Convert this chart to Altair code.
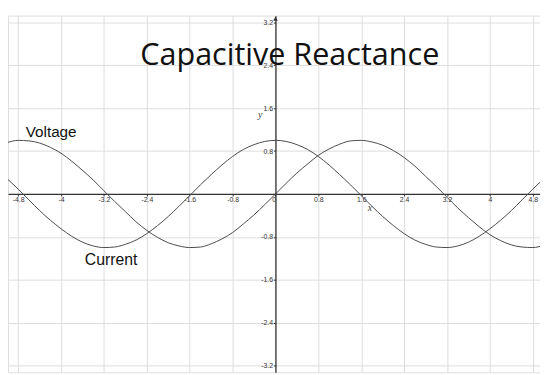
import json
import altair as alt
import pandas as pd

# ---- data ----
x_vals = [-5.0, -4.8, -4.6, -4.4, -4.2, -4.0, -3.8, -3.6, -3.4, -3.2, -3.0,
          -2.8, -2.6, -2.4, -2.2, -2.0, -1.8, -1.6, -1.4, -1.2, -1.0,
          -0.8, -0.6, -0.4, -0.2, 0.0, 0.2, 0.4, 0.6, 0.8, 1.0,
          1.2, 1.4, 1.6, 1.8, 2.0, 2.2, 2.4, 2.6, 2.8, 3.0,
          3.2, 3.4, 3.6, 3.8, 4.0, 4.2, 4.4, 4.6, 4.8, 5.0]
voltage = [0.96, 1.00, 0.99, 0.95, 0.87, 0.76, 0.61, 0.44, 0.26, 0.06, -0.14,
           -0.33, -0.52, -0.68, -0.81, -0.91, -0.97, -1.00, -0.99, -0.93, -0.84,
           -0.72, -0.56, -0.39, -0.20, 0.00, 0.20, 0.39, 0.56, 0.72, 0.84,
           0.93, 0.99, 1.00, 0.97, 0.91, 0.81, 0.68, 0.52, 0.33, 0.14,
           -0.06, -0.26, -0.44, -0.61, -0.76, -0.87, -0.95, -0.99, -1.00, -0.96]
current = [0.28, 0.09, -0.11, -0.31, -0.49, -0.65, -0.79, -0.90, -0.97, -1.00, -0.99,
           -0.94, -0.86, -0.74, -0.59, -0.42, -0.23, -0.03, 0.17, 0.36, 0.54,
           0.70, 0.83, 0.92, 0.98, 1.00, 0.98, 0.92, 0.83, 0.70, 0.54,
           0.36, 0.17, -0.03, -0.23, -0.42, -0.59, -0.74, -0.86, -0.94, -0.99,
           -1.00, -0.97, -0.90, -0.79, -0.65, -0.49, -0.31, -0.11, 0.09, 0.28]
series_names = ["Voltage", "Current"]
major_ticks = [-4.8, -4.0, -3.2, -2.4, -1.6, -0.8, 0.0, 0.8, 1.6, 2.4, 3.2, 4.0, 4.8]
minor_x = [round(-4.8 + 0.2 * i, 1) for i in range(49)]
minor_y = [round(-3.2 + 0.2 * i, 1) for i in range(33)]
title_text = "Capacitive Reactance"

# ---- tables ----
df = pd.concat([
    pd.DataFrame({"x": x_vals, "y": voltage, "series": series_names[0]}),
    pd.DataFrame({"x": x_vals, "y": current, "series": series_names[1]}),
])
ann_v = pd.DataFrame({"x": [x_vals[1]], "y": [voltage[1]], "label": [series_names[0]]})
ann_c = pd.DataFrame({"x": [x_vals[9]], "y": [current[9]], "label": [series_names[1]]})

major_js = json.dumps(major_ticks)
is_major = f"indexof({major_js}, datum.value) >= 0"

xscale = alt.Scale(domain=[-4.99, 4.935], nice=False, zero=False)
yscale = alt.Scale(domain=[-3.327, 3.327], nice=False, zero=False)

grid_color = {"condition": {"test": is_major, "value": "#dcdcdc"}, "value": "#f0f0f0"}

xaxis = alt.Axis(
    values=minor_x, offset=-181, grid=True, gridColor=grid_color, gridWidth=1,
    domainColor="#333333", domainWidth=1.3, tickColor="#333333", tickSize=2,
    labelExpr=f"{is_major} ? '' + datum.value : ''",
    labelAlign={"condition": {"test": "datum.value == 0", "value": "right"}, "value": "center"},
    labelFont="Liberation Sans", labelFontSize=7, labelColor="#333333",
    labelPadding=0, labelOverlap=False, labelFlush=False, labelBound=False,
    title="x", titleFont="Liberation Serif", titleFontStyle="italic",
    titleFontWeight="normal", titleFontSize=10, titleColor="#444444",
    titleX=367, titleY=14, titleBaseline="middle", titleAlign="center",
)
yaxis = alt.Axis(
    values=minor_y, offset=-271.5, grid=True, gridColor=grid_color, gridWidth=1,
    domainColor="#333333", domainWidth=1.3, tickColor="#333333", tickSize=2,
    labelExpr=f"{is_major} && datum.value != 0 ? '' + datum.value : ''",
    labelFont="Liberation Sans", labelFontSize=7, labelColor="#333333",
    labelPadding=1, labelOverlap=False, labelFlush=False, labelBound=False,
    title="y", titleFont="Liberation Serif", titleFontStyle="italic",
    titleFontWeight="normal", titleFontSize=10, titleColor="#444444",
    titleX=-16, titleY=100, titleAngle=0, titleBaseline="middle", titleAlign="center",
)

lines = alt.Chart(df).mark_line(
    color="#4a4a4a", strokeWidth=1, interpolate="monotone", clip=True
).encode(
    x=alt.X("x:Q", scale=xscale, axis=xaxis),
    y=alt.Y("y:Q", scale=yscale, axis=yaxis),
    detail="series:N",
)

text_v = alt.Chart(ann_v).mark_text(
    align="left", baseline="alphabetic", dx=7.6, dy=-3.6,
    font="Liberation Sans", fontSize=15.5, color="#111111"
).encode(x="x:Q", y="y:Q", text="label:N")

text_c = alt.Chart(ann_c).mark_text(
    align="left", baseline="alphabetic", dx=-19.4, dy=17.6,
    font="Liberation Sans", fontSize=16, color="#111111"
).encode(x="x:Q", y="y:Q", text="label:N")

arrow = alt.Chart(pd.DataFrame({"a": [0]})).mark_point(
    shape="triangle-up", filled=True, size=22, color="#333333", opacity=1
).encode(x=alt.datum(0), y=alt.datum(3.27))

chart = alt.layer(lines, text_v, text_c, arrow).properties(
    width=540, height=362,
    padding={"left": 0, "top": 5, "right": 0, "bottom": 0},
    autosize=alt.AutoSizeParams(type="none"),
    title=alt.TitleParams(
        title_text, font="Open Sans", fontSize=31, fontWeight="normal",
        color="#111111", anchor="middle", frame="group", orient="top",
        baseline="alphabetic", offset=0, dx=16, dy=81,
    ),
).configure_view(stroke=None).configure(background="white")

chart.save("out.html", embed_options={"renderer": "svg", "actions": False})
